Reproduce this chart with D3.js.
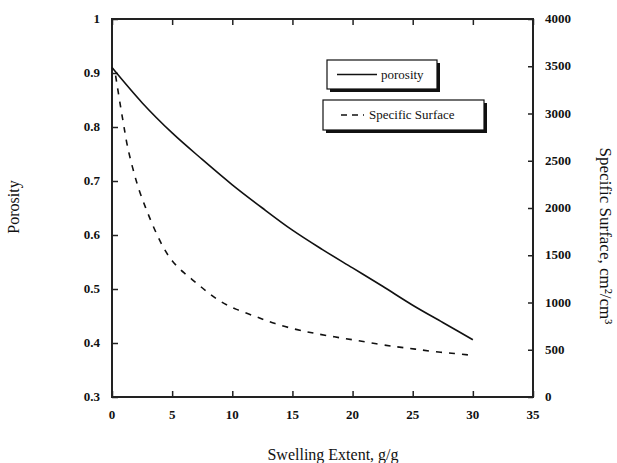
<!DOCTYPE html>
<meta charset="utf-8">
<script src="https://d3js.org/d3.v7.min.js"></script>
<style>
  body { margin: 0; background: #fff; }
  text { font-family: "Liberation Serif", "Times New Roman", serif; fill: #111; }
</style>
<body>
<div id="canvas"></div>
<script>
  // data
  var poroX = [0, 2.5, 5, 7.5, 10, 12.5, 15, 17.5, 20, 22.5, 25, 27.5, 30];
  var poroY = [0.91, 0.845, 0.789, 0.74, 0.693, 0.65, 0.609, 0.573, 0.539, 0.505, 0.470, 0.438, 0.406];

  var surfX = [0.3, 0.75, 1, 1.25, 1.7, 2.2, 2.8, 3.4, 4.2, 5, 6, 7, 8, 9, 10.2, 12, 13.5, 15.4, 16.7, 18.5, 20.2, 22, 23.7, 25.2, 26.8, 28.5, 30];
  var surfY = [3400, 3040, 2860, 2660, 2430, 2200, 2000, 1810, 1590, 1430, 1310, 1210, 1100, 1010, 930, 850, 775, 710, 677, 635, 603, 561, 530, 508, 478, 462, 440];

  var xTicks = [0, 5, 10, 15, 20, 25, 30, 35];
  var leftTicks = [0.3, 0.4, 0.5, 0.6, 0.7, 0.8, 0.9, 1];
  var rightTicks = [0, 500, 1000, 1500, 2000, 2500, 3000, 3500, 4000];

  var width = 617, height = 463;
  var pLeft = 112, pRight = 533, pTop = 19, pBottom = 397;

  var svg = d3.select("#canvas").append("svg")
      .attr("width", width)
      .attr("height", height);

  var x = d3.scaleLinear().domain([0, 35]).range([pLeft, pRight]);
  var yL = d3.scaleLinear().domain([0.3, 1]).range([pBottom, pTop]);
  var yR = d3.scaleLinear().domain([0, 4000]).range([pBottom, pTop]);

  // axes, ticks pointing inward
  var fmtL = function(d){ return d === 1 ? "1" : d3.format(".1f")(d); };

  var gb = svg.append("g").attr("transform", "translate(0," + pBottom + ")")
      .call(d3.axisTop(x).tickValues(xTicks).tickSize(6).tickFormat(""));
  var gt = svg.append("g").attr("transform", "translate(0," + pTop + ")")
      .call(d3.axisBottom(x).tickValues(xTicks).tickSize(6).tickFormat(""));
  var gl = svg.append("g").attr("transform", "translate(" + pLeft + ",0)")
      .call(d3.axisRight(yL).tickValues(leftTicks).tickSize(6).tickFormat(""));
  var gr = svg.append("g").attr("transform", "translate(" + pRight + ",0)")
      .call(d3.axisLeft(yR).tickValues(rightTicks).tickSize(5).tickFormat(""));

  [gb, gt, gl, gr].forEach(function(g){
    g.select(".domain").remove();
    g.selectAll(".tick line").attr("stroke", "#222").attr("stroke-width", 1.5);
  });

  svg.append("rect")
      .attr("x", pLeft).attr("y", pTop)
      .attr("width", pRight - pLeft).attr("height", pBottom - pTop)
      .attr("fill", "none").attr("stroke", "#222").attr("stroke-width", 2);

  // tick labels
  svg.selectAll(".xl").data(xTicks).enter().append("text")
      .attr("x", function(d){ return x(d); })
      .attr("y", pBottom + 22)
      .attr("text-anchor", "middle")
      .attr("font-size", 13).attr("font-weight", "bold")
      .text(function(d){ return d; });

  svg.selectAll(".ll").data(leftTicks).enter().append("text")
      .attr("x", pLeft - 12)
      .attr("y", function(d){ return yL(d) + 4; })
      .attr("text-anchor", "end")
      .attr("font-size", 13).attr("font-weight", "bold")
      .text(fmtL);

  svg.selectAll(".rl").data(rightTicks).enter().append("text")
      .attr("x", pRight + 12)
      .attr("y", function(d){ return yR(d) + 4; })
      .attr("text-anchor", "start")
      .attr("font-size", 13).attr("font-weight", "bold")
      .text(function(d){ return d; });

  // axis titles
  svg.append("text")
      .attr("transform", "translate(19,207) rotate(-90)")
      .attr("text-anchor", "middle")
      .attr("font-size", 16)
      .text("Porosity");

  svg.append("text")
      .attr("transform", "translate(600,236) rotate(90)")
      .attr("text-anchor", "middle")
      .attr("font-size", 17)
      .text("Specific Surface, cm²/cm³");

  svg.append("text")
      .attr("x", 333).attr("y", 460)
      .attr("text-anchor", "middle")
      .attr("font-size", 16)
      .text("Swelling Extent, g/g");

  // curves
  var poro = poroX.map(function(d, i){ return [d, poroY[i]]; });
  var surf = surfX.map(function(d, i){ return [d, surfY[i]]; });

  svg.append("path")
      .attr("d", d3.line().curve(d3.curveMonotoneX)
        .x(function(d){ return x(d[0]); })
        .y(function(d){ return yL(d[1]); })(poro))
      .attr("fill", "none").attr("stroke", "#111").attr("stroke-width", 1.6);

  svg.append("path")
      .attr("d", d3.line().curve(d3.curveBasis)
        .x(function(d){ return x(d[0]); })
        .y(function(d){ return yR(d[1]); })(surf))
      .attr("fill", "none").attr("stroke", "#111").attr("stroke-width", 1.6)
      .attr("stroke-dasharray", "6,7");

  // legend boxes with shadow
  var legend = [
    { label: "porosity", x: 327, y: 60, w: 110, h: 29, dash: null, lx1: 337, lx2: 377, tx: 381 },
    { label: "Specific Surface", x: 323, y: 100, w: 161, h: 30, dash: "6,5", lx1: 341, lx2: 364, tx: 369 }
  ];
  legend.forEach(function(l){
    svg.append("rect")
        .attr("x", l.x + 3).attr("y", l.y + 3).attr("width", l.w).attr("height", l.h)
        .attr("fill", "#111");
    svg.append("rect")
        .attr("x", l.x).attr("y", l.y).attr("width", l.w).attr("height", l.h)
        .attr("fill", "#fff").attr("stroke", "#111").attr("stroke-width", 1.2);
    svg.append("line")
        .attr("x1", l.lx1).attr("x2", l.lx2)
        .attr("y1", l.y + l.h / 2).attr("y2", l.y + l.h / 2)
        .attr("stroke", "#111").attr("stroke-width", 1.4)
        .attr("stroke-dasharray", l.dash);
    svg.append("text")
        .attr("x", l.tx).attr("y", l.y + l.h / 2 + 4)
        .attr("font-size", 13)
        .text(l.label);
  });
</script>
</body>
